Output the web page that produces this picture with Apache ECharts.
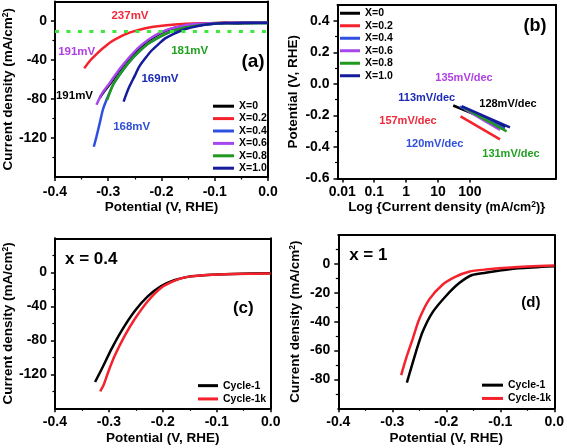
<!DOCTYPE html>
<html><head><meta charset="utf-8">
<script src="https://cdn.jsdelivr.net/npm/echarts@6/dist/echarts.min.js"></script>
<style>html,body{margin:0;padding:0;background:#fff}#c{width:567px;height:448px}</style>
</head><body><div id="c"></div>
<script>
// ================= DATA =================
// Panel (a): LSV curves, potential (V vs RHE) and current density (mA/cm2)
const namesA = ['X=0','X=0.2','X=0.4','X=0.6','X=0.8','X=1.0'];
const potA_X0  = [-0.316,-0.310,-0.297,-0.285,-0.273,-0.260,-0.242,-0.224,-0.205,-0.187,-0.162,-0.138,-0.107,-0.080,-0.060,-0.040,-0.020,0.000];
const curA_X0  = [-79,-74,-65,-55.5,-47,-38.5,-28,-20,-13.5,-9,-5.4,-3.2,-2.2,-1.8,-2.6,-2.2,-2,-2];
const potA_X02 = [-0.345,-0.333,-0.322,-0.310,-0.295,-0.279,-0.260,-0.245,-0.230,-0.215,-0.199,-0.180,-0.160,-0.138,-0.110,-0.070,-0.030,0.000];
const curA_X02 = [-48.5,-40,-34,-28,-21.5,-16.5,-12,-9.5,-7.5,-6,-4.8,-3.8,-3,-2.6,-2.2,-1.9,-1.8,-1.8];
const potA_X04 = [-0.327,-0.322,-0.316,-0.310,-0.304,-0.291,-0.279,-0.260,-0.242,-0.224,-0.205,-0.187,-0.162,-0.138,-0.107,-0.080,-0.040,0.000];
const curA_X04 = [-129,-118.6,-105,-91,-82,-65.6,-55.4,-41.7,-31.5,-22.9,-16.7,-12,-7.5,-5.1,-3,-2.3,-2,-2];
const potA_X06 = [-0.322,-0.316,-0.310,-0.297,-0.285,-0.273,-0.260,-0.242,-0.224,-0.205,-0.187,-0.162,-0.138,-0.107,-0.070,-0.030,0.000];
const curA_X06 = [-86,-79,-73,-63.5,-54,-45.5,-37,-26.8,-19,-12.8,-8.6,-5.1,-3.1,-2.3,-2,-1.8,-1.8];
const potA_X08 = [-0.302,-0.291,-0.279,-0.260,-0.242,-0.224,-0.205,-0.187,-0.162,-0.138,-0.107,-0.080,-0.040,0.000];
const curA_X08 = [-81,-65.6,-55.4,-41.7,-31.5,-22.9,-16.7,-12,-7.5,-5.1,-3,-2.3,-2,-2];
const potA_X10 = [-0.271,-0.266,-0.260,-0.250,-0.242,-0.230,-0.218,-0.205,-0.193,-0.180,-0.168,-0.153,-0.138,-0.107,-0.080,-0.040,0.000];
const curA_X10 = [-82.7,-75,-67,-56,-47,-38,-30,-23.5,-17.8,-14,-11,-8,-5.8,-3,-2,-1.8,-1.8];
const refCurrentA = -10;   // dotted reference line (10 mA/cm2)
const notesA = ['237mV','191mV','181mV','169mV','191mV','168mV'];

// Panel (b): Tafel lines, current density (mA/cm2, log axis) and potential (V)
const tafI_X0  = [30, 1260],  tafV_X0  = [-0.137, -0.272];
const tafI_X02 = [51, 880],   tafV_X02 = [-0.206, -0.352];
const tafI_X04 = [49, 1260],  tafV_X04 = [-0.145, -0.283];
const tafI_X06 = [70, 880],   tafV_X06 = [-0.160, -0.292];
const tafI_X08 = [65, 1420],  tafV_X08 = [-0.152, -0.301];
const tafI_X10 = [55, 1800],  tafV_X10 = [-0.142, -0.276];
const notesB = ['135mV/dec','113mV/dec','128mV/dec','157mV/dec','120mV/dec','131mV/dec'];

// Panel (c): x = 0.4 stability
const namesCD = ['Cycle-1','Cycle-1k'];
const potC_1  = [-0.3255,-0.313,-0.295,-0.2765,-0.252,-0.2275,-0.203,-0.179,-0.154,-0.118,-0.070,0.000];
const curC_1  = [-129,-113.5,-90,-68.8,-45.5,-28,-16.3,-9.3,-5.4,-3.2,-2,-1];
const potC_1k = [-0.316,-0.310,-0.301,-0.289,-0.2705,-0.252,-0.2275,-0.203,-0.179,-0.154,-0.118,-0.070,0.000];
const curC_1k = [-140,-133,-117,-98,-74.6,-55,-33.8,-18.2,-10,-5.4,-3.2,-2,-1.5];

// Panel (d): x = 1 stability
const potD_1  = [-0.273,-0.265,-0.256,-0.244,-0.2255,-0.201,-0.176,-0.152,-0.127,-0.103,-0.066,0.000];
const curD_1  = [-82.2,-72,-60.7,-47.2,-33.6,-22.4,-13.3,-7.7,-6.1,-4.7,-3,-1.6];
const potD_1k = [-0.2835,-0.2743,-0.262,-0.25,-0.2315,-0.207,-0.1825,-0.158,-0.127,-0.080,0.000];
const curD_1k = [-77,-65.3,-51.7,-38.2,-24.6,-14.4,-8.8,-5.4,-3.9,-2.5,-1.2];

// Tick values / labels
const potTicks = [-0.4,-0.3,-0.2,-0.1,0.0];
const potMinor = [-0.35,-0.25,-0.15,-0.05];
const curTicksA = [0,-40,-80,-120];
const curMinorA = [-20,-60,-100,-140];
const vTicksB = [-0.6,-0.4,-0.2,0.0,0.2,0.4];
const vMinorB = [-0.5,-0.3,-0.1,0.1,0.3];
const logTicksB = [-2,-1,0,1,2];
const logTickLabelsB = ['0.01','0.1','1','10','100'];
const curTicksC = [0,-40,-80,-120];
const curMinorC = [20,-20,-60,-100,-140];
const curTicksD = [0,-20,-40,-60,-80];
const curMinorD = [10,-10,-30,-50,-70,-90];

// ================= STYLE =================
const FONT = '"Liberation Sans", Arial, sans-serif';
const colA = ['#000000','#f5222d','#2f4fe0','#a647ee','#1f9a1f','#141c9c'];
const noteColA = ['#f0283a','#b040e6','#22a022','#1a2ab4','#000000','#3050d8'];
const noteColB = ['#b040e6','#1a2ab4','#000000','#f0283a','#3050d8','#22a022'];
const colCD = ['#000000','#f5222d'];

function pts(xs, ys){ return xs.map((x,i)=>[x, ys[i]]); }
function logPts(cs, vs){ return cs.map((c,i)=>[Math.log10(c), vs[i]]); }

const nameStyle = {fontSize:13.5, fontWeight:'bold', color:'#000', fontFamily:FONT,
  rich:{s:{fontSize:8.5, fontWeight:'bold', verticalAlign:'top', color:'#000', fontFamily:FONT, lineHeight:10},
        m:{fontSize:12.5, fontWeight:'bold', color:'#000', fontFamily:FONT}}};
const tickLbl = {fontSize:14, fontWeight:'bold', color:'#000', fontFamily:FONT};

function axesFor(g, o){
  const xs = [{
    type:'value', gridIndex:g, min:o.xMin, max:o.xMax, position:'bottom',
    axisLine:{show:true, onZero:false, lineStyle:{color:'#000', width:2}},
    axisTick:{show:true, inside:false, length:4, lineStyle:{color:'#000', width:1.5}, customValues:o.xTicks},
    axisLabel:Object.assign({customValues:o.xTicks, formatter:o.xFmt, margin:o.xMargin}, tickLbl),
    splitLine:{show:false}, name:o.xName, nameLocation:'middle', nameGap:o.xNameGap, nameTextStyle:nameStyle
  },{
    type:'value', gridIndex:g, min:o.xMin, max:o.xMax, position:'bottom',
    axisLine:{show:false, onZero:false},
    axisTick:{show:!!o.xMinor, inside:false, length:2.5, lineStyle:{color:'#000', width:1.2}, customValues:o.xMinor||[]},
    axisLabel:{show:false}, splitLine:{show:false}
  }];
  const ys = [{
    type:'value', gridIndex:g, min:o.yMin, max:o.yMax, position:'left',
    axisLine:{show:true, onZero:false, lineStyle:{color:'#000', width:2}},
    axisTick:{show:true, inside:false, length:4, lineStyle:{color:'#000', width:1.5}, customValues:o.yTicks},
    axisLabel:Object.assign({customValues:o.yTicks, formatter:o.yFmt, margin:o.yMargin}, tickLbl),
    splitLine:{show:false}, name:o.yName, nameLocation:'middle', nameGap:o.yNameGap, nameTextStyle:nameStyle
  },{
    type:'value', gridIndex:g, min:o.yMin, max:o.yMax, position:'left',
    axisLine:{show:false, onZero:false},
    axisTick:{show:true, inside:false, length:2.5, lineStyle:{color:'#000', width:1.2}, customValues:o.yMinor},
    axisLabel:{show:false}, splitLine:{show:false}
  }];
  return {xs, ys};
}
// plain frame axes (top / right border of each panel)
function frameX(g, min, max){
  return {type:'value', gridIndex:g, min, max, position:'top', axisLine:{show:true, onZero:false, lineStyle:{color:'#000', width:2}},
    axisTick:{show:false}, axisLabel:{show:false}, splitLine:{show:false}};
}
function frameY(g, min, max){
  return {type:'value', gridIndex:g, min, max, position:'right', axisLine:{show:true, onZero:false, lineStyle:{color:'#000', width:2}},
    axisTick:{show:false}, axisLabel:{show:false}, splitLine:{show:false}};
}
const f1 = v => (Math.abs(v) < 1e-9 ? 0 : v).toFixed(1);
const f0 = v => String(Math.round(v));
const fLog = v => logTickLabelsB[logTicksB.indexOf(Math.round(v))];

const A = axesFor(0,{xMin:-0.4,xMax:0,yMin:-160,yMax:20,xTicks:potTicks,xMinor:potMinor,yTicks:curTicksA,yMinor:curMinorA,
  xFmt:f1,yFmt:f0,xMargin:8,yMargin:8,xName:'Potential (V, RHE)',xNameGap:20,yName:'Current density (mA/cm{s|2})',yNameGap:33});
const B = axesFor(1,{xMin:-2.15,xMax:4.7,yMin:-0.6,yMax:0.5,xTicks:logTicksB,xMinor:null,yTicks:vTicksB,yMinor:vMinorB,
  xFmt:fLog,yFmt:f1,xMargin:7,yMargin:8,xName:'Log {Current density {m|(mA/cm}{s|2}{m|)}}',xNameGap:22,yName:'Potential (V, RHE)',yNameGap:37});
const C = axesFor(2,{xMin:-0.4,xMax:0,yMin:-160,yMax:40,xTicks:potTicks,xMinor:potMinor,yTicks:curTicksC,yMinor:curMinorC,
  xFmt:f1,yFmt:f0,xMargin:7,yMargin:8,xName:'Potential (V, RHE)',xNameGap:23,yName:'Current density (mA/cm{s|2})',yNameGap:31});
const D = axesFor(3,{xMin:-0.4,xMax:0,yMin:-100,yMax:20,xTicks:potTicks,xMinor:potMinor,yTicks:curTicksD,yMinor:curMinorD,
  xFmt:f1,yFmt:f0,xMargin:7,yMargin:8,xName:'Potential (V, RHE)',xNameGap:23,yName:'Current density (mA/cm{s|2})',yNameGap:36});

function line(name, data, color, axis, width, smooth){
  return {type:'line', name, data, xAxisIndex:axis, yAxisIndex:axis, showSymbol:false, symbol:'none',
    smooth: smooth===undefined ? 0.25 : smooth, itemStyle:{color}, lineStyle:{color, width:width||2.5}, z:3};
}

const dataA = [pts(potA_X0,curA_X0), pts(potA_X02,curA_X02), pts(potA_X04,curA_X04), pts(potA_X06,curA_X06), pts(potA_X08,curA_X08), pts(potA_X10,curA_X10)];
const dataB = [logPts(tafI_X0,tafV_X0), logPts(tafI_X02,tafV_X02), logPts(tafI_X04,tafV_X04), logPts(tafI_X06,tafV_X06), logPts(tafI_X08,tafV_X08), logPts(tafI_X10,tafV_X10)];

const series = [];
namesA.forEach((n,i)=>series.push(line(n, dataA[i], colA[i], 0)));
// reference dotted line at -10 mA/cm2
series[0].markLine = {silent:true, symbol:'none', label:{show:false},
  lineStyle:{color:'#3ce83c', width:3, type:[4,7.5], cap:'butt'}, data:[{yAxis:refCurrentA}]};
namesA.forEach((n,i)=>series.push(line(n, dataB[i], colA[i], 2, 2.5, false)));
series.push(line(namesCD[0], pts(potC_1,curC_1), colCD[0], 4));
series.push(line(namesCD[1], pts(potC_1k,curC_1k), colCD[1], 4));
series.push(line(namesCD[0], pts(potD_1,curD_1), colCD[0], 6));
series.push(line(namesCD[1], pts(potD_1k,curD_1k), colCD[1], 6));

function legend(data, left, top, itemWidth, fs, lh){
  return {data, left, top, orient:'vertical', icon:'rect', itemWidth, itemHeight:3, itemGap:0, padding:0,
    selectedMode:false, textStyle:{fontSize:fs, fontWeight:'bold', color:'#000', fontFamily:FONT, lineHeight:lh, padding:0}};
}

function txt(text, x, y, color, size){
  return {type:'text', x, y, z:10, style:{text, fill:color, font:'bold '+size+'px '+FONT, align:'center', verticalAlign:'middle'}};
}
const notePosA = [[130,16],[76.7,51.7],[189.7,51.3],[160,78.7],[74.5,96],[131.7,127]];
const notePosB = [[464,77.5],[426.7,97.5],[508,104],[408,120.8],[434.7,144],[511,154]];
const graphics = [];
notesA.forEach((t,i)=>graphics.push(txt(t, notePosA[i][0], notePosA[i][1], noteColA[i], 11.5)));
notesB.forEach((t,i)=>graphics.push(txt(t, notePosB[i][0], notePosB[i][1], noteColB[i], 11)));
graphics.push(txt('(a)', 253, 61.7, '#000', 19));
graphics.push(txt('(b)', 535, 25.8, '#000', 18));
graphics.push(txt('x = 0.4', 91.2, 259.2, '#000', 17));
graphics.push(txt('(c)', 243.3, 308.3, '#000', 17));
graphics.push(txt('x = 1', 368.3, 255.8, '#000', 17));
graphics.push(txt('(d)', 530.8, 302.5, '#000', 15));

const option = {
  animation:false,
  backgroundColor:'#fff',
  grid:[
    {left:51.5, top:1.5, width:216.5, height:175.5},
    {left:337.5, top:5, width:218.5, height:173.5},
    {left:52.7, top:238.3, width:218, height:170},
    {left:338.3, top:235, width:217.7, height:173.3}
  ],
  xAxis:[...A.xs, ...B.xs, ...C.xs, ...D.xs,
    frameX(0,-0.4,0), frameX(1,-2.15,4.7), frameX(2,-0.4,0), frameX(3,-0.4,0)],
  yAxis:[...A.ys, ...B.ys, ...C.ys, ...D.ys,
    frameY(0,-160,20), frameY(1,-0.6,0.5), frameY(2,-160,40), frameY(3,-100,20)],
  legend:[
    legend(namesA, 213, 100, 21, 10.5, 12.4),
    legend(namesA, 340, 7, 20, 10.5, 12.5),
    legend(namesCD, 198, 379, 20, 10.5, 13.3),
    legend(namesCD, 482, 378.5, 21, 10.5, 13.3)
  ],
  series,
  graphic:graphics
};
const chart = echarts.init(document.getElementById('c'), null, {renderer:'canvas'});
chart.setOption(option);
</script></body></html>
